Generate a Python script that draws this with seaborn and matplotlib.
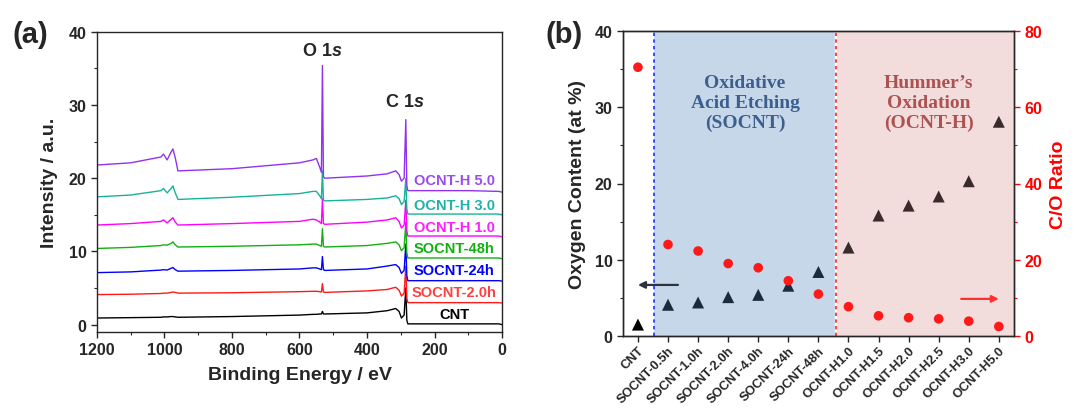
import numpy as np
import pandas as pd
import matplotlib
matplotlib.use("Agg")
import matplotlib.pyplot as plt
import seaborn as sns

# ---------------- Data: panel (a) XPS survey spectra ----------------
energy = [1200, 1100, 1010, 1003, 992, 980, 975, 968, 960, 800, 600, 560, 550, 540, 535,
          532, 529, 525, 400, 340, 315, 305, 298, 290, 285, 282, 279, 100, 10, 0]
cnt      = [0.9, 0.95, 1.0, 1.05, 1.05, 1.1, 1.1, 1.05, 1.0, 1.1, 1.3, 1.4, 1.4, 1.45, 1.45,
            1.8, 1.45, 1.45, 1.6, 1.9, 2.2, 1.8, 0.9, 1.3, 5.0, 0.6, 0.1, 0.1, 0.1, 0.0]
socnt_2h = [4.1, 4.15, 4.25, 4.3, 4.3, 4.4, 4.45, 4.4, 4.3, 4.35, 4.5, 4.55, 4.55, 4.5, 4.45,
            5.6, 4.45, 4.4, 4.6, 4.8, 5.1, 4.7, 3.9, 4.3, 8.0, 3.6, 3.0, 3.0, 3.0, 2.95]
socnt_24 = [7.1, 7.2, 7.45, 7.5, 7.45, 7.7, 7.8, 7.5, 7.3, 7.4, 7.6, 7.75, 7.75, 7.6, 7.5,
            9.3, 7.5, 7.4, 7.6, 8.0, 8.2, 7.8, 7.0, 7.4, 11.0, 6.7, 6.0, 6.0, 6.0, 5.95]
socnt_48 = [10.4, 10.55, 10.8, 10.9, 10.85, 11.1, 11.3, 10.9, 10.6, 10.7, 10.9, 11.0, 11.0, 10.8, 10.7,
            13.1, 10.7, 10.6, 10.8, 11.1, 11.3, 10.9, 10.1, 10.5, 14.0, 9.8, 9.1, 9.1, 9.1, 9.0]
ocnt_h1  = [13.6, 13.8, 14.1, 14.3, 13.9, 14.4, 14.6, 14.0, 13.6, 13.8, 14.1, 14.4, 14.3, 14.0, 13.8,
            17.2, 13.8, 13.7, 14.0, 14.3, 14.6, 14.1, 13.2, 13.6, 17.0, 12.8, 12.1, 12.1, 12.1, 12.0]
ocnt_h3  = [17.45, 17.7, 18.3, 18.6, 18.0, 18.6, 18.95, 18.0, 17.1, 17.4, 17.9, 18.2, 18.2, 17.6, 17.2,
            21.0, 17.0, 16.9, 17.1, 17.3, 17.6, 17.2, 16.4, 16.8, 20.0, 15.8, 15.1, 15.1, 15.1, 15.0]
ocnt_h5  = [21.8, 22.1, 22.9, 23.3, 22.5, 23.6, 24.0, 22.8, 21.0, 21.3, 22.1, 22.5, 22.7, 21.5, 20.8,
            35.4, 20.2, 20.0, 20.3, 20.6, 21.0, 20.5, 19.6, 20.0, 28.0, 19.0, 18.3, 18.3, 18.2, 18.1]

spec_names = ["CNT", "SOCNT-2.0h", "SOCNT-24h", "SOCNT-48h", "OCNT-H 1.0", "OCNT-H 3.0", "OCNT-H 5.0"]
spec_values = [cnt, socnt_2h, socnt_24, socnt_48, ocnt_h1, ocnt_h3, ocnt_h5]
spec_colors = ["#000000", "#ff1a1a", "#0000ff", "#12b012", "#ff00ff", "#17b29a", "#9033f0"]
label_colors = ["#000000", "#ff4040", "#0000ff", "#10b010", "#ff20ff", "#20b2aa", "#9a4cf0"]
label_y = [1.4, 4.4, 7.4, 10.4, 13.4, 16.3, 19.7]

# ---------------- Data: panel (b) ----------------
samples = ["CNT", "SOCNT-0.5h", "SOCNT-1.0h", "SOCNT-2.0h", "SOCNT-4.0h", "SOCNT-24h",
           "SOCNT-48h", "OCNT-H1.0", "OCNT-H1.5", "OCNT-H2.0", "OCNT-H2.5", "OCNT-H3.0", "OCNT-H5.0"]
oxygen = [1.5, 4.1, 4.4, 5.1, 5.4, 6.6, 8.4, 11.6, 15.8, 17.1, 18.3, 20.3, 28.1]
co_ratio = [70.5, 24.0, 22.3, 19.0, 17.9, 14.5, 11.0, 7.7, 5.3, 4.8, 4.5, 3.9, 2.5]
group = ["CNT"] + ["SOCNT"] * 6 + ["OCNT-H"] * 6

# ---------------- Style ----------------
sns.set_theme(style="ticks")
plt.rcParams["font.family"] = ["Liberation Sans", "DejaVu Sans"]
plt.rcParams["font.weight"] = "bold"
plt.rcParams["mathtext.fontset"] = "custom"
plt.rcParams["mathtext.it"] = "Liberation Sans:italic:bold"
plt.rcParams["mathtext.rm"] = "Liberation Sans:bold"
plt.rcParams["axes.linewidth"] = 1.0

fig = plt.figure(figsize=(10.89, 4.10), dpi=100)
axa = fig.add_axes([0.089, 0.188, 0.372, 0.732])
axb = fig.add_axes([0.572, 0.178, 0.359, 0.744])

# ---------------- Panel (a) ----------------
rows = []
for name, vals in zip(spec_names, spec_values):
    for e, v in zip(energy, vals):
        rows.append((name, e, v))
dfa = pd.DataFrame(rows, columns=["sample", "energy", "intensity"])
sns.lineplot(data=dfa, x="energy", y="intensity", hue="sample", hue_order=spec_names,
             palette=dict(zip(spec_names, spec_colors)), sort=False, estimator=None,
             linewidth=1.0, legend=False, ax=axa)
axa.set_xlim(1200, 0)
axa.set_ylim(-1, 40)
axa.set_xticks([1200, 1000, 800, 600, 400, 200, 0])
axa.set_xticks(np.arange(1100, 0, -200), minor=True)
axa.set_yticks([0, 10, 20, 30, 40])
axa.set_yticks([5, 15, 25, 35], minor=True)
axa.tick_params(axis="both", which="major", direction="out", length=4, width=1, labelsize=11.5)
axa.tick_params(axis="both", which="minor", direction="out", length=2.5, width=0.8)
for lab in axa.get_xticklabels() + axa.get_yticklabels():
    lab.set_fontweight("bold")
axa.set_xlabel("Binding Energy / eV", fontsize=14, fontweight="bold", labelpad=6)
axa.set_ylabel("Intensity / a.u.", fontsize=14, fontweight="bold", labelpad=8)
for name, c, y in zip(spec_names, label_colors, label_y):
    axa.text(142, y, name, color=c, fontsize=10.5, fontweight="bold", ha="center", va="center")
axa.text(533, 37.4, r"O $\it{1s}$", fontsize=13, fontweight="bold", ha="center", va="center")
axa.text(288, 30.5, r"C $\it{1s}$", fontsize=13, fontweight="bold", ha="center", va="center")
fig.text(0.028, 0.915, "(a)", fontsize=21, fontweight="bold", ha="center", va="center")

# ---------------- Panel (b) ----------------
pos = list(range(len(samples)))
dfb = pd.DataFrame({"pos": pos, "sample": samples, "oxygen": oxygen,
                    "co": co_ratio, "group": group})
axb.axvspan(0.55, 6.6, color="#c7d7ea", lw=0, zorder=0)
axb.axvspan(6.6, 12.5, color="#f2dcdc", lw=0, zorder=0)
axb.axvline(0.55, color="#2030ff", lw=1.2, ls=(0, (2, 2)), zorder=1)
axb.axvline(6.6, color="white", lw=1.6, zorder=1)
axb.axvline(6.6, color="#ff2020", lw=1.2, ls=(0, (2, 2)), zorder=1)

sns.scatterplot(data=dfb, x="pos", y="oxygen", hue="group", marker="^", s=75,
                palette={"CNT": "#000000", "SOCNT": "#1b2a3c", "OCNT-H": "#3a2a2a"},
                edgecolor="none", legend=False, ax=axb, zorder=3)
axb.set_xlim(-0.5, 12.5)
axb.set_ylim(0, 40)
axb.set_xticks(pos)
axb.set_xticklabels(samples, rotation=45, ha="right", rotation_mode="anchor",
                    fontsize=9.3, fontweight="bold")
axb.set_yticks([0, 10, 20, 30, 40])
axb.set_yticks([5, 15, 25, 35], minor=True)
axb.tick_params(axis="both", which="major", direction="out", length=4, width=1, labelsize=11.5)
axb.tick_params(axis="y", which="minor", direction="out", length=2.5, width=0.8)
axb.tick_params(axis="x", labelsize=9.3, pad=2)
for lab in axb.get_yticklabels():
    lab.set_fontweight("bold")
axb.set_xlabel("")
axb.set_ylabel("Oxygen Content (at %)", fontsize=14, fontweight="bold", labelpad=6)

ax2 = axb.twinx()
sns.scatterplot(data=dfb, x="pos", y="co", color="#ff1a1a", s=48, edgecolor="none",
                legend=False, ax=ax2, zorder=3)
ax2.set_ylim(0, 80)
ax2.set_yticks([0, 20, 40, 60, 80])
ax2.set_yticks([10, 30, 50, 70], minor=True)
ax2.tick_params(axis="y", which="major", direction="out", length=4, width=1,
                colors="#ff0000", labelsize=11.5)
ax2.tick_params(axis="y", which="minor", direction="out", length=2.5, width=0.8, colors="#ff0000")
for lab in ax2.get_yticklabels():
    lab.set_fontweight("bold")
ax2.set_ylabel("C/O Ratio", color="#ff0000", fontsize=14, fontweight="bold", labelpad=6)
ax2.set_xlim(-0.5, 12.5)

axb.annotate("", xy=(0.0, 6.7), xytext=(1.33, 6.7),
             arrowprops=dict(arrowstyle="-|>", color="#2b3440", lw=1.6,
                             mutation_scale=10, shrinkA=0, shrinkB=0), zorder=4)
axb.annotate("", xy=(12.0, 4.87), xytext=(10.75, 4.87),
             arrowprops=dict(arrowstyle="-|>", color="#ff3030", lw=1.6,
                             mutation_scale=10, shrinkA=0, shrinkB=0), zorder=4)

axb.text(3.56, 30.6, "Oxidative\nAcid Etching\n(SOCNT)", family=["Liberation Serif"],
         fontsize=14, fontweight="bold", color="#3d5f8e", ha="center", va="center",
         linespacing=1.2)
axb.text(9.67, 30.6, "Hummer\u2019s\nOxidation\n(OCNT-H)", family=["Liberation Serif"],
         fontsize=14, fontweight="bold", color="#ad5252", ha="center", va="center",
         linespacing=1.2)
fig.text(0.518, 0.915, "(b)", fontsize=21, fontweight="bold", ha="center", va="center")

fig.savefig("out.png", dpi=100)
